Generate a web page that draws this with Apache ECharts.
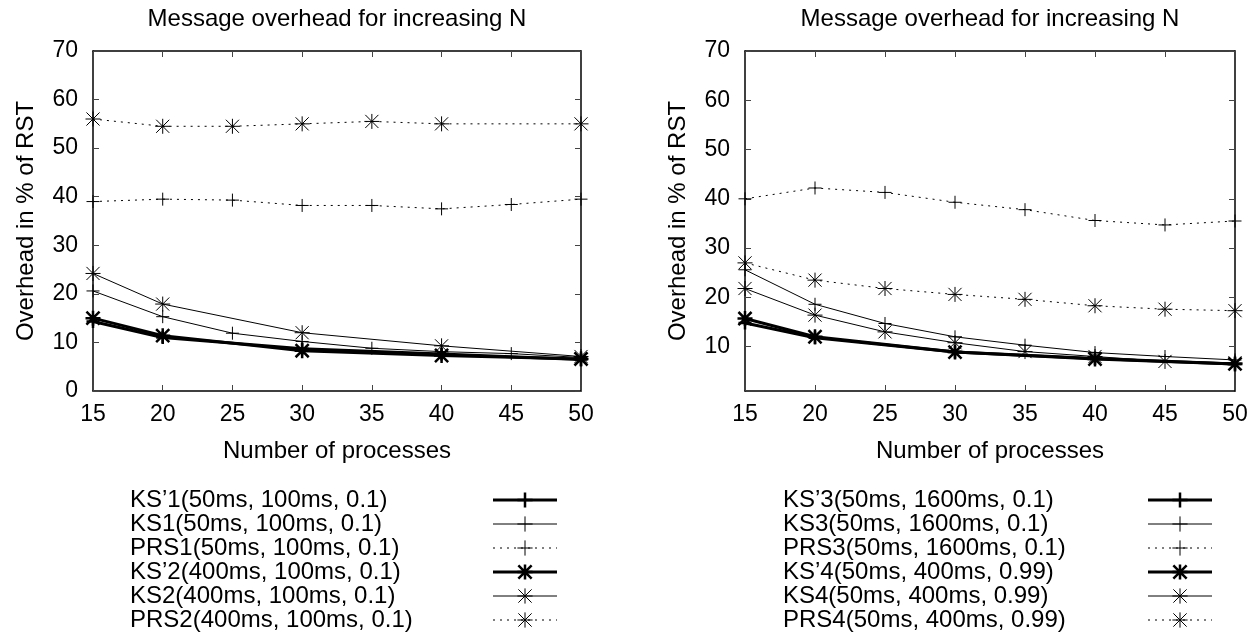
<!DOCTYPE html>
<html>
<head>
<meta charset="utf-8">
<script src="https://cdn.jsdelivr.net/npm/echarts@6/dist/echarts.min.js"></script>
<style>
html,body{margin:0;padding:0;background:#fff;}
#chart{width:1258px;height:634px;}
</style>
</head>
<body>
<div id="chart"></div>
<script>
// ---- data ----
const xTicks = [15, 20, 25, 30, 35, 40, 45, 50];
const xAll = [15, 20, 25, 30, 35, 40, 45, 50];
const xSparse = [15, 20, 30, 40, 50];
const xPrs2 = [15, 20, 25, 30, 35, 40, 50];
const yTicksRight = [10, 20, 30, 40, 50, 60, 70];

const chartTitle = 'Message overhead for increasing N';
const xTitle = 'Number of processes';
const yTitle = 'Overhead in % of RST';

// left chart
const namesLeft = ['KS’1(50ms, 100ms, 0.1)', 'KS1(50ms, 100ms, 0.1)', 'PRS1(50ms, 100ms, 0.1)',
                   'KS’2(400ms, 100ms, 0.1)', 'KS2(400ms, 100ms, 0.1)', 'PRS2(400ms, 100ms, 0.1)'];
const ksp1 = [14.3, 11.0, 8.7, 7.6, 6.5];
const ks1  = [20.6, 15.3, 11.9, 10.2, 8.8, 8.1, 7.7, 6.9];
const prs1 = [39.0, 39.5, 39.3, 38.2, 38.2, 37.5, 38.4, 39.5];
const ksp2 = [15.0, 11.4, 8.3, 7.3, 6.6];
const ks2  = [24.2, 17.9, 12.0, 9.3, 7.1];
const prs2 = [56.0, 54.5, 54.5, 55.0, 55.5, 55.0, 55.0];

// right chart
const namesRight = ['KS’3(50ms, 1600ms, 0.1)', 'KS3(50ms, 1600ms, 0.1)', 'PRS3(50ms, 1600ms, 0.1)',
                    'KS’4(50ms, 400ms, 0.99)', 'KS4(50ms, 400ms, 0.99)', 'PRS4(50ms, 400ms, 0.99)'];
const ksp3 = [14.8, 11.8, 8.9, 7.6, 6.5];
const ks3  = [25.6, 18.6, 14.7, 12.0, 10.3, 8.8, 8.0, 7.3];
const prs3 = [40.0, 42.2, 41.3, 39.3, 37.8, 35.6, 34.7, 35.5];
const ksp4 = [15.7, 12.0, 8.9, 7.5, 6.5];
const ks4  = [21.8, 16.4, 13.0, 10.8, 9.0, 8.0, 7.0, 6.7];
const prs4 = [27.0, 23.5, 21.8, 20.6, 19.6, 18.3, 17.6, 17.3];

// ---- styling / building ----
const FONT = '"Liberation Sans", Arial, Helvetica, sans-serif';
const PLUS = 'path://M0 8L16 8M8 0L8 16';
const STAR = 'path://M0 8L16 8M8 0L8 16M1 1L15 15M1 15L15 1';

function zip(xs, ys) { return xs.map((x, i) => [x, ys[i]]); }

const kinds = {
  thickPlus: {sym: PLUS, size: 13, lw: 3, bw: 2.5, type: 'solid'},
  thinPlus:  {sym: PLUS, size: 13, lw: 1, bw: 1, type: 'solid'},
  dotPlus:   {sym: PLUS, size: 13, lw: 1, bw: 1, type: [2, 5]},
  thickStar: {sym: STAR, size: 15, lw: 3, bw: 2.5, type: 'solid'},
  thinStar:  {sym: STAR, size: 15, lw: 1, bw: 1, type: 'solid'},
  dotStar:   {sym: STAR, size: 15, lw: 1, bw: 1, type: [2, 5]}
};
const kindOrder = ['thickPlus', 'thinPlus', 'dotPlus', 'thickStar', 'thinStar', 'dotStar'];

function mk(name, xs, ys, axisIdx, kind) {
  const k = kinds[kind];
  return {
    name: name, type: 'line',
    xAxisIndex: axisIdx, yAxisIndex: axisIdx,
    data: zip(xs, ys),
    symbol: k.sym, symbolSize: k.size,
    lineStyle: {color: '#000', width: k.lw, type: k.type},
    itemStyle: {color: '#000', borderColor: '#000', borderWidth: k.bw},
    emphasis: {disabled: true},
    silent: true
  };
}

const series = [
  mk(namesLeft[0], xSparse, ksp1, 0, 'thickPlus'),
  mk(namesLeft[1], xAll, ks1, 0, 'thinPlus'),
  mk(namesLeft[2], xAll, prs1, 0, 'dotPlus'),
  mk(namesLeft[3], xSparse, ksp2, 0, 'thickStar'),
  mk(namesLeft[4], xSparse, ks2, 0, 'thinStar'),
  mk(namesLeft[5], xPrs2, prs2, 0, 'dotStar'),
  mk(namesRight[0], xSparse, ksp3, 2, 'thickPlus'),
  mk(namesRight[1], xAll, ks3, 2, 'thinPlus'),
  mk(namesRight[2], xAll, prs3, 2, 'dotPlus'),
  mk(namesRight[3], xSparse, ksp4, 2, 'thickStar'),
  mk(namesRight[4], xAll, ks4, 2, 'thinStar'),
  mk(namesRight[5], xAll, prs4, 2, 'dotStar')
];

const axisLine = {show: true, onZero: false, lineStyle: {color: '#000', width: 1.5}};
const tick = {show: true, inside: true, length: 6, lineStyle: {color: '#444', width: 1}};
const labelFont = {fontFamily: FONT, fontSize: 23, color: '#000'};

function xAxes(gridIndex) {
  return [
    {type: 'value', gridIndex: gridIndex, position: 'bottom', min: 15, max: 50, interval: 5,
     axisLine: axisLine, axisTick: tick, splitLine: {show: false},
     axisLabel: Object.assign({margin: 12, customValues: xTicks}, labelFont),
     name: xTitle, nameLocation: 'middle', nameGap: 48,
     nameTextStyle: {fontFamily: FONT, fontSize: 24, color: '#000'}},
    {type: 'value', gridIndex: gridIndex, position: 'top', min: 15, max: 50, interval: 5,
     axisLine: axisLine, axisTick: tick, splitLine: {show: false}, axisLabel: {show: false},
     name: chartTitle, nameLocation: 'middle', nameGap: 20,
     nameTextStyle: {fontFamily: FONT, fontSize: 24, color: '#000'}}
  ];
}

const yAxis = [
  {type: 'value', gridIndex: 0, position: 'left', min: 0, max: 70, interval: 10,
   axisLine: axisLine, axisTick: tick, splitLine: {show: false},
   axisLabel: Object.assign({margin: 15}, labelFont),
   name: yTitle, nameLocation: 'middle', nameGap: 55,
   nameTextStyle: {fontFamily: FONT, fontSize: 24, color: '#000'}},
  {type: 'value', gridIndex: 0, position: 'right', min: 0, max: 70, interval: 10,
   axisLine: axisLine, axisTick: tick, splitLine: {show: false}, axisLabel: {show: false}},
  {type: 'value', gridIndex: 1, position: 'left', min: 1, max: 70,
   axisLine: axisLine, splitLine: {show: false},
   axisTick: Object.assign({customValues: yTicksRight}, tick),
   axisLabel: Object.assign({margin: 15, customValues: yTicksRight}, labelFont),
   name: yTitle, nameLocation: 'middle', nameGap: 55,
   nameTextStyle: {fontFamily: FONT, fontSize: 24, color: '#000'}},
  {type: 'value', gridIndex: 1, position: 'right', min: 1, max: 70,
   axisLine: axisLine, splitLine: {show: false},
   axisTick: Object.assign({customValues: yTicksRight}, tick), axisLabel: {show: false}}
];

function legend(names, left, textW) {
  return {
    data: names.map((n, i) => {
      const k = kinds[kindOrder[i]];
      return {
        name: n,
        lineStyle: {color: '#000', width: k.lw, type: k.type},
        itemStyle: {color: '#000', borderColor: '#000', borderWidth: k.bw}
      };
    }),
    orient: 'vertical', left: left, top: 488, height: 150, padding: 0,
    align: 'right', itemWidth: 64, itemHeight: 19, itemGap: 0,
    selectedMode: false,
    formatter: n => '{a|' + n + '}',
    textStyle: {
      fontFamily: FONT, fontSize: 24, color: '#000',
      rich: {a: {width: textW, align: 'left', fontFamily: FONT, fontSize: 24, lineHeight: 24.4, color: '#000'}}
    }
  };
}

const option = {
  animation: false,
  backgroundColor: '#fff',
  grid: [
    {left: 93, top: 51, width: 488, height: 340, containLabel: false},
    {left: 745, top: 51, width: 490, height: 340, containLabel: false}
  ],
  xAxis: xAxes(0).concat(xAxes(1)),
  yAxis: yAxis,
  legend: [legend(namesLeft, 130, 358), legend(namesRight, 783, 360)],
  series: series
};

const chart = echarts.init(document.getElementById('chart'), null, {renderer: 'canvas'});
chart.setOption(option);
</script>
</body>
</html>
